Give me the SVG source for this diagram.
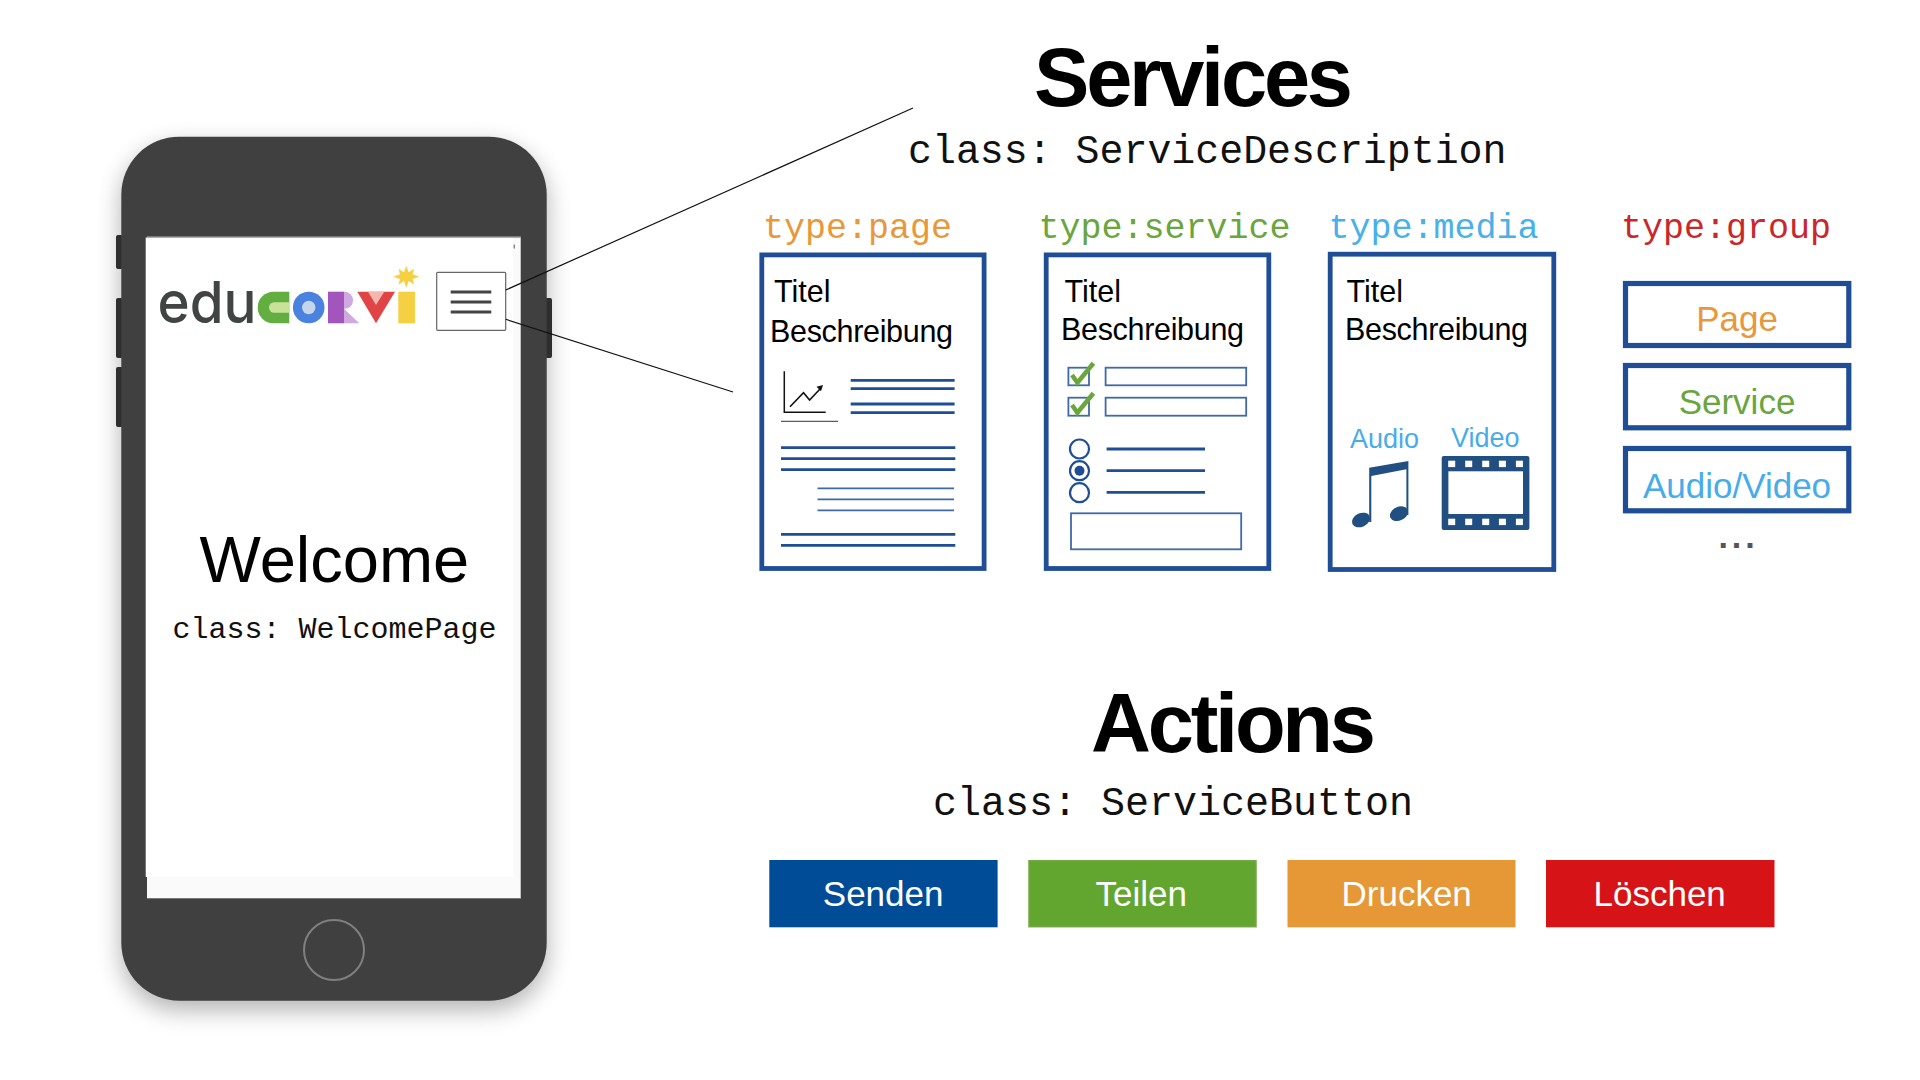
<svg xmlns="http://www.w3.org/2000/svg" width="1920" height="1080" viewBox="0 0 1920 1080">
<style>
.s{font-family:"Liberation Sans",Arial,sans-serif}
.m{font-family:"Liberation Mono","Courier New",monospace}
.h{font-size:83px;font-weight:700;fill:#000}
.tt{font-size:30.5px;fill:#000}
.ty{font-size:35px}
.cl{fill:#111}
.gl{font-size:35px;text-anchor:middle}
.bl{font-size:35px;fill:#fff}
.box{fill:#fff;stroke:#1f4e96;stroke-width:4.8}
.gb{fill:#fff;stroke:#1f4e96;stroke-width:5.2}
.l1{stroke:#1f4e96;stroke-width:2.8;fill:none}
.l2{stroke:#3f69a8;stroke-width:1.7;fill:none}
.o{stroke:#3f69a8;stroke-width:1.8;fill:#fff}
.ck{stroke:#6aa63b;stroke-width:4.5;fill:none}
.rd{stroke:#1f4e96;stroke-width:2.2;fill:#fff}
.fi{fill:#214f82}
.blue{fill:#47ace8}
.conn{stroke:#111;stroke-width:1.2;fill:none}
</style>
<defs>
<filter id="sh" x="-20%" y="-20%" width="140%" height="140%"><feGaussianBlur stdDeviation="12"/></filter>
</defs>
<rect width="1920" height="1080" fill="#fff"/>

<g id="phone">
<rect x="121" y="146" width="426" height="864" rx="58" fill="#000" opacity=".3" filter="url(#sh)"/>
<g fill="#2e2e2e">
<rect x="116" y="235" width="7" height="34" rx="2"/>
<rect x="116" y="298" width="7" height="60" rx="2"/>
<rect x="116" y="367" width="7" height="60" rx="2"/>
<rect x="545" y="298" width="7" height="60" rx="2"/>
</g>
<rect x="121.3" y="136.7" width="425.4" height="864" rx="58" fill="#404040"/>
<rect x="147" y="236.7" width="373.7" height="662" fill="#fafafa"/>
<rect x="145.700" y="237.500" width="367.500" height="639.500" fill="#fff"/>
<rect x="147" y="236.700" width="373.700" height="1" fill="#888"/>
<rect x="147" y="898" width="373.700" height="1" fill="#777"/>
<rect x="513.500" y="244.500" width="1.500" height="4" fill="#888"/>
<circle cx="334" cy="950" r="30" fill="none" stroke="#808080" stroke-width="2"/>
</g>

<g id="logo">
<text x="157.500" y="323" font-size="58" font-weight="500" font-family="Inter,'Liberation Sans',sans-serif" fill="#404443" textLength="99" lengthAdjust="spacingAndGlyphs">edu</text>
<path d="M289.300 291.700H273.500a15.800 15.800 0 0 0 0 31.600H289.300Z" fill="#63ae40"/>
<path d="M289.300 302.300H274.200a5.200 5.200 0 0 0 0 10.400H289.300Z" fill="#c9e29a"/>
<circle cx="308.700" cy="307.500" r="15.800" fill="#4a82e0"/>
<circle cx="308.700" cy="307.500" r="6.700" fill="#c5d6ea"/>
<rect x="328" y="291.700" width="16" height="31.600" fill="#a155bd"/>
<path d="M344 291.700h1a8.300 8.300 0 0 1 8 8v1a8 8 0 0 1-9 8l15.300 14.600H344Z" fill="#d0a9e0"/>
<path d="M357.300 291.700H395L376 323.300Z" fill="#e04444"/>
<path d="M368 291.700H384.300L376 305Z" fill="#f4b7ae"/>
<rect x="398.300" y="291.700" width="16.700" height="31.600" fill="#f6d043"/>
<path d="M406.300 265.700l2.400 6.600 5.400-3.600-1.400 5.600 6.600 2.400-6.600 2.400 1.400 5.600-5.400-3.600-2.400 6.600-2.400-6.600-5.400 3.600 1.400-5.600-6.600-2.400 6.600-2.400-1.400-5.600 5.400 3.600Z" fill="#f6d043"/>
</g>

<g id="menu-button">
<rect x="436.700" y="272.300" width="69" height="58" rx="1" fill="#fff" stroke="#666" stroke-width="1.200"/>
<path d="M450.700 292H491.300M450.700 302H491.300M450.700 312H491.300" stroke="#444" stroke-width="3"/>
</g>

<g id="connectors">
<path class="conn" d="M505.700 290L913 108"/>
<path class="conn" d="M505.700 319.300L733 392"/>
</g>

<g id="welcome">
<text class="s" x="199.500" y="581.500" font-size="65" fill="#000">Welcome</text>
<text class="m cl" x="172.500" y="637.500" font-size="30">class: WelcomePage</text>
</g>

<g id="services-title">
<text class="s h" x="1034" y="106" textLength="319">Services</text>
<text class="m cl" x="908" y="163" font-size="39.900">class: ServiceDescription</text>
</g>

<g id="type-page">
<text class="m ty" x="763" y="238" fill="#e8983a">type:page</text>
<rect class="box" x="761.800" y="254.900" width="222.300" height="313.600"/>
<text class="s tt" x="774" y="301.500">Titel</text>
<text class="s tt" x="770" y="341.500" textLength="183">Beschreibung</text>
<path d="M784.300 371.300V412.300H825.700" fill="none" stroke="#111" stroke-width="1.500"/>
<path d="M790 406.700L803.500 392.700L809.600 400L820 389" fill="none" stroke="#111" stroke-width="1.600"/>
<path d="M823 385l-6.500 1.800 4.500 4.500Z" fill="#111"/>
<path d="M781 421.300H838" stroke="#333" stroke-width="1"/>
<path class="l1" d="M850.700 380.300H954.600M850.700 388.700H954.600M850.700 404H954.600M850.700 412.700H954.600M781 447.700H955.300M781 458.700H955.300M781 469.700H955.300M781 534.300H955.300M781 545.300H955.300"/>
<path class="l2" d="M817.500 488.300H954M817.500 499.300H954M817.500 510.300H954"/>
</g>

<g id="type-service">
<text class="m ty" x="1038.500" y="238" fill="#6aa53d">type:service</text>
<rect class="box" x="1046.200" y="254.900" width="222.600" height="313.600"/>
<text class="s tt" x="1064.500" y="301.500">Titel</text>
<text class="s tt" x="1061" y="339.500" textLength="183">Beschreibung</text>
<rect class="o" x="1068.400" y="367.700" width="20.600" height="17.600"/>
<rect class="o" x="1068.400" y="397.700" width="20.600" height="18"/>
<rect class="o" x="1105.600" y="367.700" width="140.600" height="17.600"/>
<rect class="o" x="1105.600" y="397.700" width="140.600" height="18"/>
<path class="ck" d="M1072 375L1077.400 382.700L1093.400 363.300"/>
<path class="ck" d="M1072 405L1077.400 412.700L1093.400 393.300"/>
<circle class="rd" cx="1079.500" cy="449" r="9.500"/>
<circle class="rd" cx="1079.500" cy="470.700" r="9.500"/>
<circle cx="1079.500" cy="470.700" r="5" fill="#1f4e96"/>
<circle class="rd" cx="1079.500" cy="492.700" r="9.500"/>
<path class="l1" d="M1106.600 449H1205M1106.600 470.700H1205M1106.600 492.300H1205"/>
<rect class="o" x="1071" y="513.300" width="170.200" height="36"/>
</g>

<g id="type-media">
<text class="m ty" x="1328.500" y="238" fill="#4ab0e8">type:media</text>
<rect class="box" x="1330.200" y="254.200" width="223.600" height="315.300"/>
<text class="s tt" x="1346.500" y="301.500">Titel</text>
<text class="s tt" x="1345" y="339.500" textLength="183">Beschreibung</text>
<text class="s blue" x="1350" y="448" font-size="27">Audio</text>
<text class="s blue" x="1451" y="447" font-size="27">Video</text>
<path class="fi" d="M1369.200 467.700L1408.400 461V515H1406.400V469.300L1371.300 476V522H1369.200Z"/>
<ellipse class="fi" cx="1361" cy="520" rx="9.500" ry="6.800" transform="rotate(-25 1361 520)"/>
<ellipse class="fi" cx="1399" cy="513.700" rx="9.500" ry="6.800" transform="rotate(-25 1399 513.700)"/>
<rect class="fi" x="1441.700" y="456" width="87.700" height="74" rx="2"/>
<rect x="1448.400" y="471.300" width="74.600" height="42.700" fill="#fff"/>
<g fill="#fff">
<rect x="1448.200" y="460.700" width="7" height="6.400"/><rect x="1465.200" y="460.700" width="7" height="6.400"/><rect x="1482.200" y="460.700" width="7" height="6.400"/><rect x="1498.900" y="460.700" width="7" height="6.400"/><rect x="1515.900" y="460.700" width="7" height="6.400"/>
<rect x="1448.200" y="518.700" width="7" height="6.400"/><rect x="1465.200" y="518.700" width="7" height="6.400"/><rect x="1482.200" y="518.700" width="7" height="6.400"/><rect x="1498.900" y="518.700" width="7" height="6.400"/><rect x="1515.900" y="518.700" width="7" height="6.400"/>
</g>
</g>

<g id="type-group">
<text class="m ty" x="1621" y="238" fill="#c8282a">type:group</text>
<rect class="gb" x="1625.500" y="283.500" width="223.300" height="62"/>
<text class="s gl" x="1737" y="331" fill="#e8983a">Page</text>
<rect class="gb" x="1625.500" y="365.500" width="223.300" height="62.300"/>
<text class="s gl" x="1737" y="414" fill="#6aa53d">Service</text>
<rect class="gb" x="1625.500" y="448.500" width="223.300" height="62.300"/>
<text class="s gl" x="1737" y="498" fill="#47ace8">Audio/Video</text>
<text class="s" x="1738.500" y="548" font-size="34" font-weight="700" fill="#555" text-anchor="middle" letter-spacing="3.900">...</text>
</g>

<g id="actions-title">
<text class="s h" x="1091" y="752" textLength="285">Actions</text>
<text class="m cl" x="933" y="815" font-size="40">class: ServiceButton</text>
</g>

<g id="btn-senden"><rect x="769.300" y="860" width="228.300" height="67.300" fill="#004c97"/><text class="s bl" x="822.800" y="905.500">Senden</text></g>
<g id="btn-teilen"><rect x="1029" y="860.700" width="227" height="66" fill="#63a62f" stroke="#74a845" stroke-width="1.500"/><text class="s bl" x="1095.500" y="905.500">Teilen</text></g>
<g id="btn-drucken"><rect x="1287.500" y="860" width="228" height="67.300" fill="#e59835"/><text class="s bl" x="1341.500" y="905.500">Drucken</text></g>
<g id="btn-loeschen"><rect x="1546" y="860" width="228.500" height="67.300" fill="#d61317"/><text class="s bl" x="1593.500" y="905.500">Löschen</text></g>
</svg>
